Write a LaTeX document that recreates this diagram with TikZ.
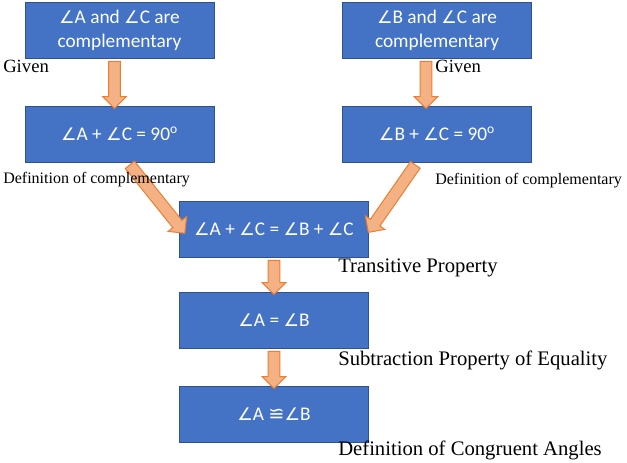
\documentclass[tikz,border=0pt]{standalone}
\usepackage{fontspec}
\setmainfont{Liberation Serif}
\newfontfamily\boxfont{Carlito}
\newfontfamily\symfont{DejaVu Sans}
\usetikzlibrary{calc,shapes.arrows}
\definecolor{boxblue}{HTML}{4472C4}
\definecolor{boxline}{HTML}{2F528F}
\definecolor{arrfill}{HTML}{F4B183}
\definecolor{arrline}{HTML}{ED7D31}
\newcommand{\ang}{{\symfont\fontsize{13}{16}\selectfont ∠}}
\newcommand{\blockarrow}[2]{%
  \path let \p1=($(#2)-(#1)$), \n1={veclen(\x1,\y1)} in
    (#1) -- (#2) node[midway,sloped,allow upside down,fatarrow,minimum height=\n1]{};}
\begin{document}
\begin{tikzpicture}[x=0.75pt,y=-0.75pt,
  stepnode/.style={draw=boxline,fill=boxblue,line width=0.75pt,
    minimum width=141.75pt,minimum height=42pt,text=white,align=center,
    font=\boxfont\fontsize{14.5}{18}\selectfont},
  reason/.style={anchor=west,inner sep=0pt},
  fatarrow/.style={single arrow,draw=arrline,fill=arrfill,line width=0.75pt,
    inner xsep=0pt,inner ysep=4pt,outer sep=0pt,
    single arrow head extend=4.5pt,single arrow head indent=0pt}]
\useasboundingbox (0,0) rectangle (627,462);

\node[stepnode] (ac) at (119.5,30) {\ang A and \ang C are\\complementary};
\node[stepnode] (bc) at (437,30) {\ang B and \ang C are\\complementary};
\node[stepnode] (acsum) at (119.5,134) {\ang A + \ang C = 90\textsuperscript{o}};
\node[stepnode] (bcsum) at (437,134) {\ang B + \ang C = 90\textsuperscript{o}};
\node[stepnode] (trans) at (274,229) {\ang A + \ang C = \ang B + \ang C};
\node[stepnode] (eq) at (274,320) {\ang A = \ang B};
\node[stepnode] (cong) at (274,414) {\ang A {\symfont ≌}\ang B};

% arrows
\coordinate (a1) at ($(ac.south)+(-5,0)$);
\coordinate (a2) at ($(acsum.north)+(-5,0)$);
\coordinate (b1) at ($(bc.south)+(-11,0)$);
\coordinate (b2) at ($(bcsum.north)+(-11,0)$);
\coordinate (c1) at ($(acsum.south)+(8.5,0)$);
\coordinate (c2) at ($(trans.west)+(4,2)$);
\coordinate (d1) at ($(bcsum.south)+(-20,0)$);
\coordinate (d2) at ($(trans.east)+(1,1)$);
\blockarrow{a1}{a2}
\blockarrow{b1}{b2}
\blockarrow{c1}{c2}
\blockarrow{d1}{d2}
\blockarrow{trans.south}{eq.north}
\blockarrow{eq.south}{cong.north}

% reasons
\node[reason,font=\fontsize{14}{16}\selectfont] (given1) at (3,66) {Given};
\node[reason,font=\fontsize{14}{16}\selectfont] (given2) at (435,66) {Given};
\node[reason,font=\fontsize{12}{14}\selectfont] (def1) at (3,180) {Definition of complementary};
\node[reason,font=\fontsize{12}{14}\selectfont] (def2) at (435,181) {Definition of complementary};
\node[reason,font=\fontsize{15.5}{18}\selectfont] (transr) at (338,268) {Transitive Property};
\node[reason,font=\fontsize{15.5}{18}\selectfont] (subr) at (338,360) {Subtraction Property of Equality};
\node[reason,font=\fontsize{15.5}{18}\selectfont] (congr) at (338,450) {Definition of Congruent Angles};
\end{tikzpicture}
\end{document}
